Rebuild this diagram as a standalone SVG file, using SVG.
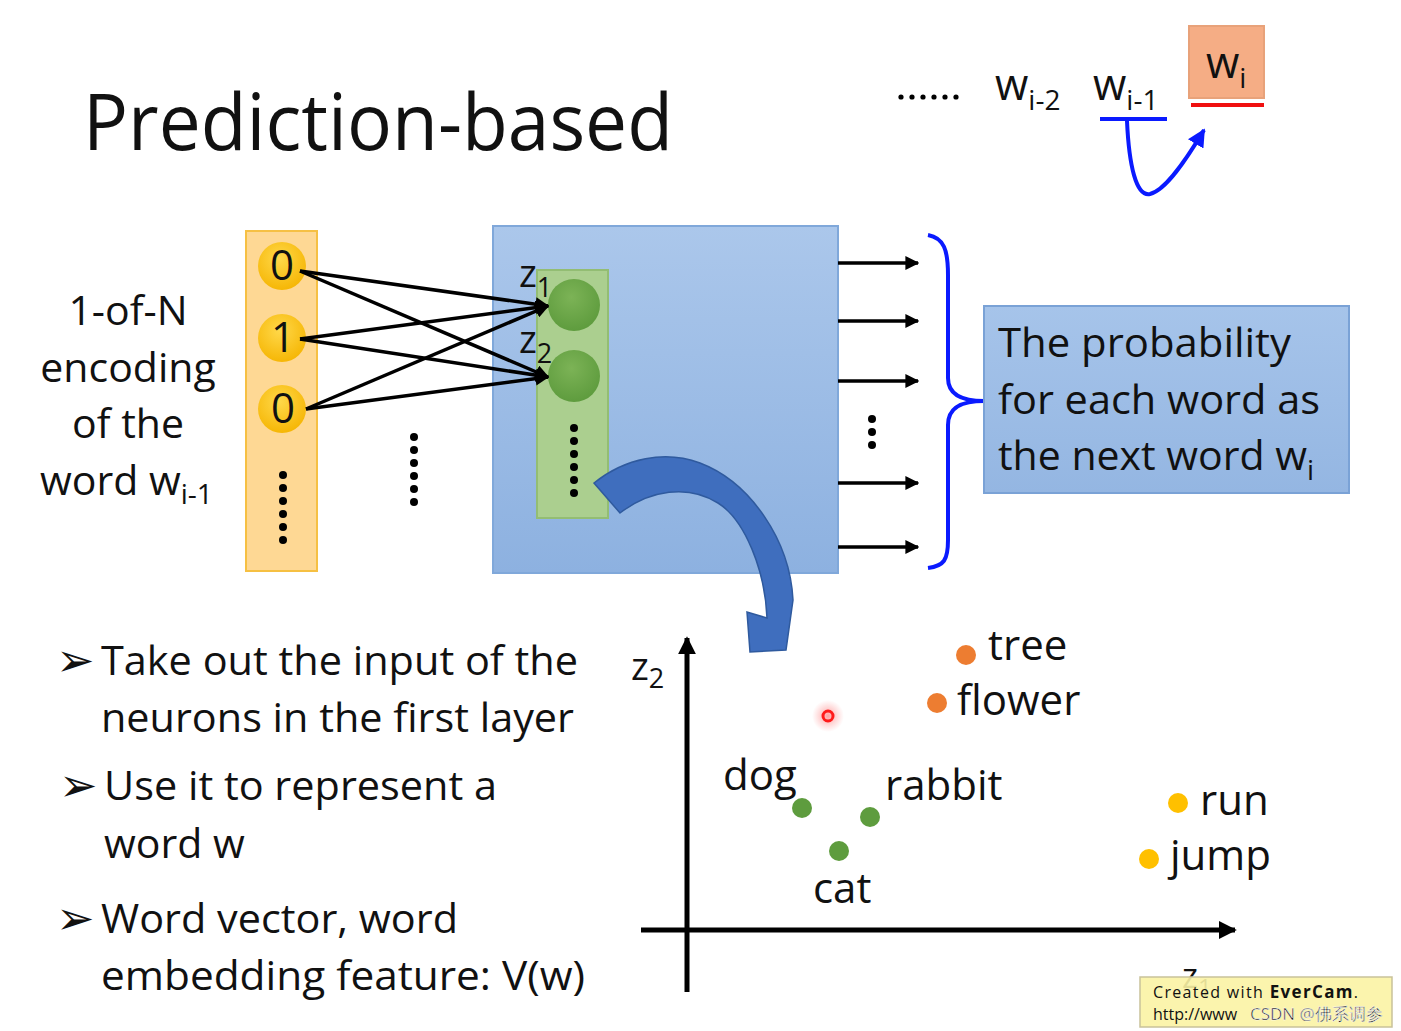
<svg xmlns="http://www.w3.org/2000/svg" width="1401" height="1031" viewBox="0 0 1401 1031">
<defs>
<style>
text{font-family:"Open Sans",Lato,"Noto Sans",sans-serif;fill:#111}
.b{font-size:41px}
.p{font-size:42px}
.sub{font-size:28px}
.conn{stroke:#000;stroke-width:3.5;fill:none}
.dot{fill:#000}
.bul{font-family:"DejaVu Sans",sans-serif;font-size:46px}
</style>
<linearGradient id="blueBg" x1="0" y1="0" x2="0" y2="1"><stop offset="0" stop-color="#abc7eb"/><stop offset="1" stop-color="#8db1e0"/></linearGradient>
<linearGradient id="probBg" x1="0" y1="0" x2="0" y2="1"><stop offset="0" stop-color="#a6c4ea"/><stop offset="1" stop-color="#94b6e2"/></linearGradient>
<radialGradient id="yel" cx="0.45" cy="0.35" r="0.7"><stop offset="0" stop-color="#ffd84a"/><stop offset="1" stop-color="#f5b400"/></radialGradient>
<radialGradient id="grn" cx="0.45" cy="0.35" r="0.7"><stop offset="0" stop-color="#7cb356"/><stop offset="1" stop-color="#5c9a3c"/></radialGradient>
<radialGradient id="glow" cx="0.5" cy="0.5" r="0.5"><stop offset="0" stop-color="#ff6060" stop-opacity="0.6"/><stop offset="1" stop-color="#ff8080" stop-opacity="0"/></radialGradient>
<marker id="ah" viewBox="0 0 10 10" refX="9" refY="5" markerWidth="4" markerHeight="4" orient="auto"><path d="M0,0 L10,5 L0,10 z" fill="#000"/></marker>
<marker id="ahb" viewBox="0 0 10 10" refX="9" refY="5" markerWidth="4.5" markerHeight="4.5" orient="auto"><path d="M0,0 L10,5 L0,10 z" fill="#0a1aff"/></marker>
<marker id="ahAx" viewBox="0 0 10 10" refX="9" refY="5" markerWidth="3.6" markerHeight="3.6" orient="auto"><path d="M0,0 L10,5 L0,10 z" fill="#000"/></marker>
</defs>
<rect width="1401" height="1031" fill="#fff"/>

<g id="title"><text x="83" y="150" font-size="78" textLength="590" lengthAdjust="spacingAndGlyphs">Prediction-based</text></g>

<g id="sequence">
<g fill="#000"><circle cx="901" cy="97" r="2.6"/><circle cx="912" cy="97" r="2.6"/><circle cx="923" cy="97" r="2.6"/><circle cx="934" cy="97" r="2.6"/><circle cx="945" cy="97" r="2.6"/><circle cx="956" cy="97" r="2.6"/></g>
<text x="995" y="100" font-size="43">w<tspan class="sub" dy="10">i-2</tspan></text>
<text x="1093" y="100" font-size="43">w<tspan class="sub" dy="10">i-1</tspan></text>
<line x1="1100" y1="119" x2="1167" y2="119" stroke="#0a1aff" stroke-width="4"/>
</g>
<g id="wi">
<rect x="1189" y="26" width="75" height="72" fill="#f5ad85" stroke="#e8a27a" stroke-width="2"/>
<text x="1206" y="78" font-size="43">w<tspan class="sub" dy="10">i</tspan></text>
<line x1="1191" y1="105" x2="1264" y2="105" stroke="#f01010" stroke-width="4"/>
</g>

<g id="input-label">
<text class="b" x="128" y="325" text-anchor="middle">1-of-N</text>
<text class="b" x="128" y="382" text-anchor="middle">encoding</text>
<text class="b" x="128" y="438" text-anchor="middle">of the</text>
<text class="b" x="40" y="495">word w<tspan class="sub" dy="9">i-1</tspan></text>
</g>

<g id="input-layer">
<rect x="246" y="231" width="71" height="340" fill="#fed894" stroke="#f6c043" stroke-width="2"/>
<circle cx="282" cy="266" r="24" fill="url(#yel)"/>
<circle cx="282" cy="338" r="24" fill="url(#yel)"/>
<circle cx="282" cy="409" r="24" fill="url(#yel)"/>
<text x="282" y="280" font-size="42" text-anchor="middle">0</text>
<text x="283" y="352" font-size="42" text-anchor="middle">1</text>
<text x="283" y="423" font-size="42" text-anchor="middle">0</text>
<g class="dot"><circle cx="283" cy="475" r="4"/><circle cx="283" cy="488" r="4"/><circle cx="283" cy="501" r="4"/><circle cx="283" cy="514" r="4"/><circle cx="283" cy="527" r="4"/><circle cx="283" cy="540" r="4"/></g>
</g>

<g id="mid-dots" class="dot"><circle cx="414" cy="437" r="4"/><circle cx="414" cy="450" r="4"/><circle cx="414" cy="463" r="4"/><circle cx="414" cy="476" r="4"/><circle cx="414" cy="489" r="4"/><circle cx="414" cy="502" r="4"/></g>

<g id="network">
<rect x="493" y="226" width="345" height="347" fill="url(#blueBg)" stroke="#80a8da" stroke-width="2"/>
</g>
<g id="hidden-layer">
<rect x="537" y="270" width="71" height="248" fill="#abcf8f" stroke="#93bd73" stroke-width="2"/>
<circle cx="574" cy="305" r="26" fill="url(#grn)"/>
<circle cx="574" cy="376" r="26" fill="url(#grn)"/>
<text x="519" y="287" font-size="38">z<tspan font-size="27" dy="10">1</tspan></text>
<text x="519" y="353" font-size="38">z<tspan font-size="27" dy="10">2</tspan></text>
<g class="dot"><circle cx="574" cy="428" r="4"/><circle cx="574" cy="441" r="4"/><circle cx="574" cy="454" r="4"/><circle cx="574" cy="467" r="4"/><circle cx="574" cy="480" r="4"/><circle cx="574" cy="493" r="4"/></g>
</g>

<g id="connectors">
<line class="conn" x1="300" y1="271" x2="548" y2="306" marker-end="url(#ah)"/>
<line class="conn" x1="300" y1="271" x2="548" y2="377" marker-end="url(#ah)"/>
<line class="conn" x1="300" y1="339" x2="548" y2="306" marker-end="url(#ah)"/>
<line class="conn" x1="300" y1="339" x2="548" y2="377" marker-end="url(#ah)"/>
<line class="conn" x1="306" y1="409" x2="548" y2="306" marker-end="url(#ah)"/>
<line class="conn" x1="306" y1="409" x2="548" y2="377" marker-end="url(#ah)"/>
<line class="conn" x1="838" y1="263" x2="918" y2="263" marker-end="url(#ah)"/>
<line class="conn" x1="838" y1="321" x2="918" y2="321" marker-end="url(#ah)"/>
<line class="conn" x1="838" y1="381" x2="918" y2="381" marker-end="url(#ah)"/>
<line class="conn" x1="838" y1="483" x2="918" y2="483" marker-end="url(#ah)"/>
<line class="conn" x1="838" y1="547" x2="918" y2="547" marker-end="url(#ah)"/>
<path d="M1127,121 C1129,165 1136,197 1150,194 C1166,190 1186,160 1204,130" fill="none" stroke="#0a1aff" stroke-width="4" marker-end="url(#ahb)"/>
<path d="M928,235 C944,238 948,250 948,275 L948,378 C948,395 962,401 984,401 C962,401 948,407 948,425 L948,540 C948,560 944,566 928,568" fill="none" stroke="#0a1aff" stroke-width="4"/>
<path d="M594,483 C625,458 665,450 700,463 C750,482 790,540 793,600 L786,650 L750,652 L747,612 L767,618 C765,570 745,520 718,503 C688,484 650,490 620,513 Z" fill="#3f6ebe" stroke="#2f5a9e" stroke-width="1.5"/>
</g>

<g id="out-dots" class="dot"><circle cx="872" cy="419" r="4"/><circle cx="872" cy="432" r="4"/><circle cx="872" cy="445" r="4"/></g>

<g id="probability">
<rect x="984" y="306" width="365" height="187" fill="url(#probBg)" stroke="#7aa2d6" stroke-width="2"/>
<text class="b" x="998" y="357" textLength="293" lengthAdjust="spacingAndGlyphs">The probability</text>
<text class="b" x="998" y="414" textLength="322" lengthAdjust="spacingAndGlyphs">for each word as</text>
<text class="b" x="998" y="470">the next word w<tspan class="sub" dy="10">i</tspan></text>
</g>

<g id="bullets">
<text class="bul" x="56" y="676">➢</text>
<text class="b" x="101" y="675" textLength="477" lengthAdjust="spacingAndGlyphs">Take out the input of the</text>
<text class="b" x="101" y="732" textLength="473" lengthAdjust="spacingAndGlyphs">neurons in the first layer</text>
<text class="bul" x="59" y="801">➢</text>
<text class="b" x="104" y="800" textLength="393" lengthAdjust="spacingAndGlyphs">Use it to represent a</text>
<text class="b" x="104" y="858">word w</text>
<text class="bul" x="56" y="934">➢</text>
<text class="b" x="101" y="933" textLength="357" lengthAdjust="spacingAndGlyphs">Word vector, word</text>
<text class="b" x="101" y="990" textLength="484" lengthAdjust="spacingAndGlyphs">embedding feature: V(w)</text>
</g>

<g id="plot">
<line x1="687" y1="992" x2="687" y2="638" stroke="#000" stroke-width="5" marker-end="url(#ahAx)"/>
<line x1="641" y1="930" x2="1235" y2="930" stroke="#000" stroke-width="5" marker-end="url(#ahAx)"/>
<text x="631" y="680" font-size="38">z<tspan font-size="27" dy="8">2</tspan></text>
<circle cx="966" cy="655" r="10" fill="#ed7d31"/><text class="p" x="988" y="660">tree</text>
<circle cx="937" cy="703" r="10" fill="#ed7d31"/><text class="p" x="957" y="715">flower</text>
<circle cx="828" cy="716" r="16" fill="url(#glow)"/><circle cx="828" cy="716" r="5" fill="none" stroke="#ff1a1a" stroke-width="3"/>
<text class="p" x="723" y="790">dog</text><circle cx="802" cy="808" r="10" fill="#5e9c3e"/>
<text class="p" x="885" y="800">rabbit</text><circle cx="870" cy="817" r="10" fill="#5e9c3e"/>
<circle cx="839" cy="851" r="10" fill="#5e9c3e"/><text class="p" x="813" y="903">cat</text>
<circle cx="1178" cy="803" r="10" fill="#ffc000"/><text class="p" x="1200" y="815">run</text>
<circle cx="1149" cy="859" r="10" fill="#ffc000"/><text class="p" x="1170" y="870">jump</text>
<text x="1182" y="988" font-size="34">z<tspan font-size="24" dy="8">1</tspan></text>
</g>

<g id="watermark">
<rect x="1140" y="977" width="252" height="50" fill="#fbf3a4" fill-opacity="0.9" stroke="#c9c29a" stroke-width="1.5"/>
<text x="1153" y="998" font-family="'DejaVu Sans',sans-serif" font-size="16" fill="#333" textLength="205">Created with <tspan font-weight="bold" font-size="17">EverCam</tspan>.</text>
<text x="1153" y="1020" font-family="'DejaVu Sans Mono',monospace" font-size="16" fill="#333">http://www</text>
<text x="1250" y="1020" font-family="'Noto Sans','Noto Sans CJK SC',sans-serif" font-size="17" fill="#777" stroke="#fff" stroke-width="0.5">CSDN @佛系调参</text>
</g>
</svg>
